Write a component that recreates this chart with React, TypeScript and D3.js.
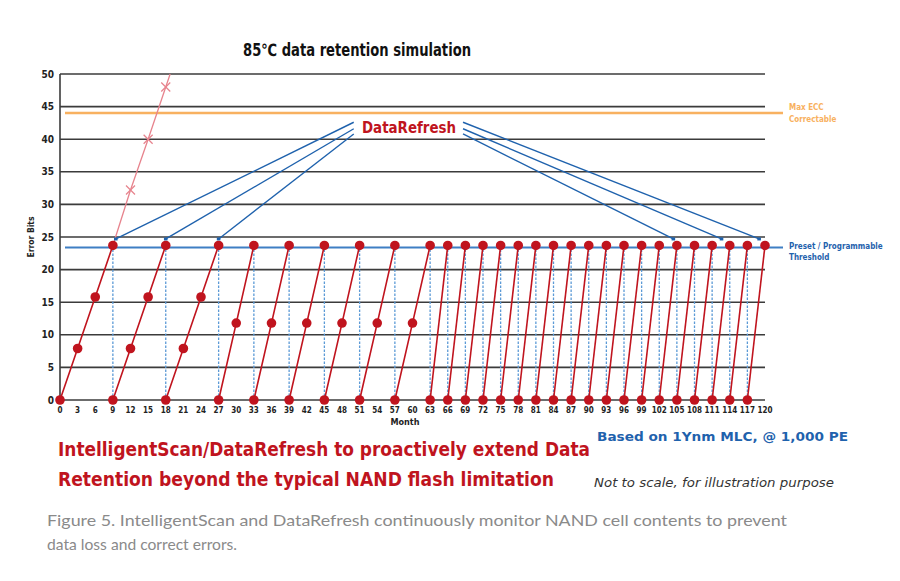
import React from "react";
import * as d3 from "d3";

const W = 900;
const H = 581;

const monthTicks = [0,3,6,9,12,15,18,21,24,27,30,33,36,39,42,45,48,51,54,57,60,63,66,69,72,75,78,81,84,87,90,93,96,99,102,105,108,111,114,117,120];
const errorTicks = [0,5,10,15,20,25,30,35,40,45,50];

const THRESHOLD = 23.7;
const MAX_ECC = 44;

// Each refresh cycle: [month, error bits]
const cycles: [number, number][][] = [
  [[0,0],[3,7.9],[6,15.8],[9,23.7]],
  [[9,0],[12,7.9],[15,15.8],[18,23.7]],
  [[18,0],[21,7.9],[24,15.8],[27,23.7]],
  [[27,0],[30,11.8],[33,23.7]],
  [[33,0],[36,11.8],[39,23.7]],
  [[39,0],[42,11.8],[45,23.7]],
  [[45,0],[48,11.8],[51,23.7]],
  [[51,0],[54,11.8],[57,23.7]],
  [[57,0],[60,11.8],[63,23.7]],
  [[63,0],[66,23.7]],
  [[66,0],[69,23.7]],
  [[69,0],[72,23.7]],
  [[72,0],[75,23.7]],
  [[75,0],[78,23.7]],
  [[78,0],[81,23.7]],
  [[81,0],[84,23.7]],
  [[84,0],[87,23.7]],
  [[87,0],[90,23.7]],
  [[90,0],[93,23.7]],
  [[93,0],[96,23.7]],
  [[96,0],[99,23.7]],
  [[99,0],[102,23.7]],
  [[102,0],[105,23.7]],
  [[105,0],[108,23.7]],
  [[108,0],[111,23.7]],
  [[111,0],[114,23.7]],
  [[114,0],[117,23.7]],
  [[117,0],[120,23.7]],
];

const refreshMonths = [9,18,27,33,39,45,51,57,63,66,69,72,75,78,81,84,87,90,93,96,99,102,105,108,111,114,117];

// Without refresh (pink line with x markers)
const noRefreshLine: [number, number][] = [[9,23.7],[12,32.2],[15,40],[18,48],[18.75,50]];
const noRefreshMarkers: [number, number][] = [[12,32.2],[15,40],[18,48]];

// DataRefresh pointer lines: [start, end]
const arrowsLeft: [[number, number],[number, number]][] = [
  [[50,42.6],[9.5,24.7]],
  [[50,41.6],[18,24.7]],
  [[50,40.8],[27,24.7]],
];
const arrowsRight: [[number, number],[number, number]][] = [
  [[68.6,42.6],[119,24.7]],
  [[68.6,41.6],[112.6,24.7]],
  [[68.6,40.8],[104.4,24.7]],
];

const RED = "#c0141e";
const BLUE = "#1f62ad";
const LBLUE = "#5c9ad6";
const ORANGE = "#f8b160";
const PINK = "#e7838d";
const GRID = "#3b3b3b";
const COND = "'Liberation Sans Narrow', 'DejaVu Sans Condensed', 'Roboto', sans-serif";

export default function App() {
  const x = d3.scaleLinear().domain([0, 120]).range([60, 765]);
  const y = d3.scaleLinear().domain([0, 50]).range([400, 74]);
  const line = d3.line<[number, number]>().x(d => x(d[0])).y(d => y(d[1]));

  return (
    <div style={{ position: "absolute", left: 0, top: 0 }}>
      <svg width={W} height={H} viewBox={`0 0 ${W} ${H}`} style={{ display: "block", background: "#fff" }}>
        {/* Title */}
        <text x={357} y={56} textAnchor="middle" fontFamily={COND} fontWeight="bold" fontSize={17} fill="#111" textLength={228} lengthAdjust="spacingAndGlyphs">85℃ data retention simulation</text>

        {/* gridlines */}
        {errorTicks.map(t => (
          <line key={t} x1={x(0)} x2={x(120)} y1={y(t)} y2={y(t)} stroke={GRID} strokeWidth={1.6} />
        ))}
        <line x1={x(0)} x2={x(0)} y1={y(50)} y2={y(0)} stroke={GRID} strokeWidth={1.6} />

        {/* y tick labels */}
        {errorTicks.map(t => (
          <text key={t} x={54} y={y(t) + 3.5} textAnchor="end" fontFamily={COND} fontWeight="bold" fontSize={10} fill="#222">{t}</text>
        ))}
        <text transform={`translate(34,${y(25)}) rotate(-90)`} textAnchor="middle" fontFamily={COND} fontWeight="bold" fontSize={8.5} fill="#222">Error Bits</text>

        {/* x tick labels */}
        {monthTicks.map(t => (
          <text key={t} x={x(t)} y={413} textAnchor="middle" fontFamily={COND} fontWeight="bold" fontSize={8} fill="#222">{t}</text>
        ))}
        <text x={405} y={425} textAnchor="middle" fontFamily={COND} fontWeight="bold" fontSize={9} fill="#222">Month</text>

        {/* Max ECC line */}
        <line x1={x(0) + 5} x2={x(120) + 18} y1={y(MAX_ECC)} y2={y(MAX_ECC)} stroke={ORANGE} strokeWidth={2.5} />
        <text x={789} y={110} fontFamily={COND} fontWeight="bold" fontSize={8} fill={ORANGE}>Max ECC</text>
        <text x={789} y={122} fontFamily={COND} fontWeight="bold" fontSize={8} fill={ORANGE}>Correctable</text>

        {/* Threshold line */}
        <line x1={x(0) + 5} x2={x(120) + 18} y1={y(THRESHOLD) + 2} y2={y(THRESHOLD) + 2} stroke="#3f7fc4" strokeWidth={1.8} />
        <text x={789} y={249} fontFamily={COND} fontWeight="bold" fontSize={8} fill={BLUE}>Preset / Programmable</text>
        <text x={789} y={260} fontFamily={COND} fontWeight="bold" fontSize={8} fill={BLUE}>Threshold</text>

        {/* dashed refresh drops */}
        {refreshMonths.map(m => (
          <line key={m} x1={x(m)} x2={x(m)} y1={y(THRESHOLD)} y2={y(0)} stroke={LBLUE} strokeWidth={1.3} strokeDasharray="2.5,1.5" />
        ))}

        {/* no refresh line */}
        <path d={line(noRefreshLine) || ""} fill="none" stroke={PINK} strokeWidth={1.3} />
        {noRefreshMarkers.map((p, i) => {
          const cx = x(p[0]), cy = y(p[1]), s = 4.5;
          return (
            <g key={i} stroke={PINK} strokeWidth={1.3}>
              <line x1={cx - s} y1={cy - s} x2={cx + s} y2={cy + s} />
              <line x1={cx - s} y1={cy + s} x2={cx + s} y2={cy - s} />
            </g>
          );
        })}

        {/* DataRefresh pointers */}
        {[...arrowsLeft, ...arrowsRight].map((a, i) => (
          <g key={i}>
            <line x1={x(a[0][0])} y1={y(a[0][1])} x2={x(a[1][0])} y2={y(a[1][1])} stroke={BLUE} strokeWidth={1.4} />
            <rect x={x(a[1][0]) - 1.8} y={y(a[1][1]) - 1.5} width={3.6} height={3} fill={BLUE} />
          </g>
        ))}
        <text x={409} y={133} textAnchor="middle" fontFamily={COND} fontWeight="bold" fontSize={16} fill={RED} textLength={94} lengthAdjust="spacingAndGlyphs">DataRefresh</text>

        {/* sawtooth */}
        {cycles.map((c, i) => (
          <path key={i} d={line(c) || ""} fill="none" stroke={RED} strokeWidth={1.6} />
        ))}
        {cycles.map((c, i) => c.map((p, j) => (
          <circle key={`${i}-${j}`} cx={x(p[0])} cy={y(p[1])} r={4.8} fill={RED} />
        )))}

        {/* Notes */}
        <text x={597} y={441} fontFamily={COND} fontWeight="bold" fontSize={11.5} fill={BLUE} textLength={251} lengthAdjust="spacingAndGlyphs">Based on 1Ynm MLC, @ 1,000 PE</text>
        <text x={58} y={456} fontFamily={COND} fontWeight="bold" fontSize={20} fill={RED} textLength={532} lengthAdjust="spacingAndGlyphs">IntelligentScan/DataRefresh to proactively extend Data</text>
        <text x={58} y={486} fontFamily={COND} fontWeight="bold" fontSize={20} fill={RED} textLength={496} lengthAdjust="spacingAndGlyphs">Retention beyond the typical NAND flash limitation</text>
        <text x={594} y={487} fontFamily={COND} fontStyle="italic" fontSize={12.5} fill="#333" textLength={240} lengthAdjust="spacingAndGlyphs">Not to scale, for illustration purpose</text>

        {/* Caption */}
        <text x={47} y={526} fontFamily="Lato, 'Noto Sans', sans-serif" fontSize={16} fill="#8a8a8a" textLength={740} lengthAdjust="spacingAndGlyphs">Figure 5. IntelligentScan and DataRefresh continuously monitor NAND cell contents to prevent</text>
        <text x={47} y={550} fontFamily="Lato, 'Noto Sans', sans-serif" fontSize={16} fill="#8a8a8a" textLength={190} lengthAdjust="spacingAndGlyphs">data loss and correct errors.</text>
      </svg>
    </div>
  );
}
